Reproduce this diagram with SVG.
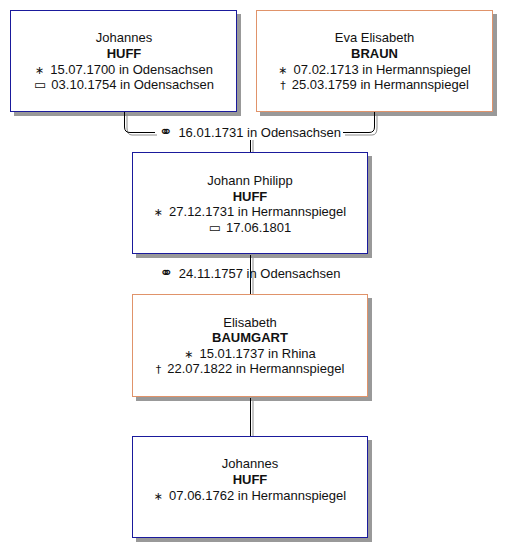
<svg xmlns="http://www.w3.org/2000/svg" width="512" height="558" viewBox="0 0 512 558">
<style>
.m{fill:#ffffff;stroke:#1a1a9c;stroke-width:1;}
.f{fill:#ffffff;stroke:#e0936a;stroke-width:1;}
.sh{fill:#999999;stroke:#999999;stroke-width:1;}
text{font-family:"Liberation Sans",Arial,"DejaVu Sans",sans-serif;font-size:13px;fill:#111;text-anchor:middle;}
.b{font-weight:bold;}
.sym{font-family:"DejaVu Sans",sans-serif;font-size:11px;}
.bur{font-family:"DejaVu Sans",sans-serif;font-size:13px;}
.mar{font-family:"DejaVu Sans",sans-serif;font-size:16px;}
.ln{fill:none;stroke:#000;stroke-width:1;}
.lg{fill:none;stroke:#8c8c8c;stroke-width:1;}
</style>
<rect width="512" height="558" fill="#fff"/>
<g id="shadows">
<rect class="sh" x="14.5" y="14.5" width="226" height="101"/>
<rect class="sh" x="260.5" y="14.5" width="236" height="101"/>
<rect class="sh" x="136.5" y="156.5" width="235" height="101"/>
<rect class="sh" x="136.5" y="298.5" width="235" height="102"/>
<rect class="sh" x="136.5" y="440.5" width="235" height="101"/>
</g>
<g id="connectors">
<path class="lg" d="M127 114 V128 Q127 135 132 135 H157"/>
<path class="ln" d="M124.5 112 V127 Q124.5 132.5 130 132.5 H155"/>
<path class="lg" d="M377 114 V128 Q377 135 372 135 H345"/>
<path class="ln" d="M374.5 112 V127 Q374.5 132.5 369 132.5 H343"/>
<text x="250" y="137"><tspan class="mar">⚭</tspan><tspan dx="6">16.01.1731 in Odensachsen</tspan></text>
<path class="lg" d="M253 140 V152"/>
<path class="ln" d="M250.5 140 V152"/>
<path class="lg" d="M253 258 V294"/>
<path class="ln" d="M250.5 255 V294"/>
<text x="250" y="278"><tspan class="mar">⚭</tspan><tspan dx="6">24.11.1757 in Odensachsen</tspan></text>
<path class="lg" d="M253 401 V436"/>
<path class="ln" d="M250.5 398 V436"/>
</g>
<g id="p1">
<rect class="m" x="10.5" y="10.5" width="226" height="101"/>
<text x="124" y="42">Johannes</text>
<text x="124" y="58" class="b">HUFF</text>
<text x="124" y="74"><tspan class="sym">∗</tspan><tspan dx="6">15.07.1700 in Odensachsen</tspan></text>
<text x="124" y="89"><tspan class="bur">▭</tspan><tspan dx="5">03.10.1754 in Odensachsen</tspan></text>
</g>
<g id="p2">
<rect class="f" x="256.5" y="10.5" width="236" height="101"/>
<text x="374.5" y="42">Eva Elisabeth</text>
<text x="374.5" y="58" class="b">BRAUN</text>
<text x="374.5" y="74"><tspan class="sym">∗</tspan><tspan dx="6">07.02.1713 in Hermannspiegel</tspan></text>
<text x="374.5" y="89"><tspan class="sym">†</tspan><tspan dx="6">25.03.1759 in Hermannspiegel</tspan></text>
</g>
<g id="p3">
<rect class="m" x="132.5" y="152.5" width="235" height="101"/>
<text x="250" y="185">Johann Philipp</text>
<text x="250" y="201" class="b">HUFF</text>
<text x="250" y="216"><tspan class="sym">∗</tspan><tspan dx="6">27.12.1731 in Hermannspiegel</tspan></text>
<text x="250" y="232"><tspan class="bur">▭</tspan><tspan dx="5">17.06.1801</tspan></text>
</g>
<g id="p4">
<rect class="f" x="132.5" y="294.5" width="235" height="102"/>
<text x="250" y="327">Elisabeth</text>
<text x="250" y="342" class="b">BAUMGART</text>
<text x="250" y="358"><tspan class="sym">∗</tspan><tspan dx="6">15.01.1737 in Rhina</tspan></text>
<text x="250" y="373"><tspan class="sym">†</tspan><tspan dx="6">22.07.1822 in Hermannspiegel</tspan></text>
</g>
<g id="p5">
<rect class="m" x="132.5" y="436.5" width="235" height="101"/>
<text x="250" y="468">Johannes</text>
<text x="250" y="484" class="b">HUFF</text>
<text x="250" y="500"><tspan class="sym">∗</tspan><tspan dx="6">07.06.1762 in Hermannspiegel</tspan></text>
</g>
</svg>
